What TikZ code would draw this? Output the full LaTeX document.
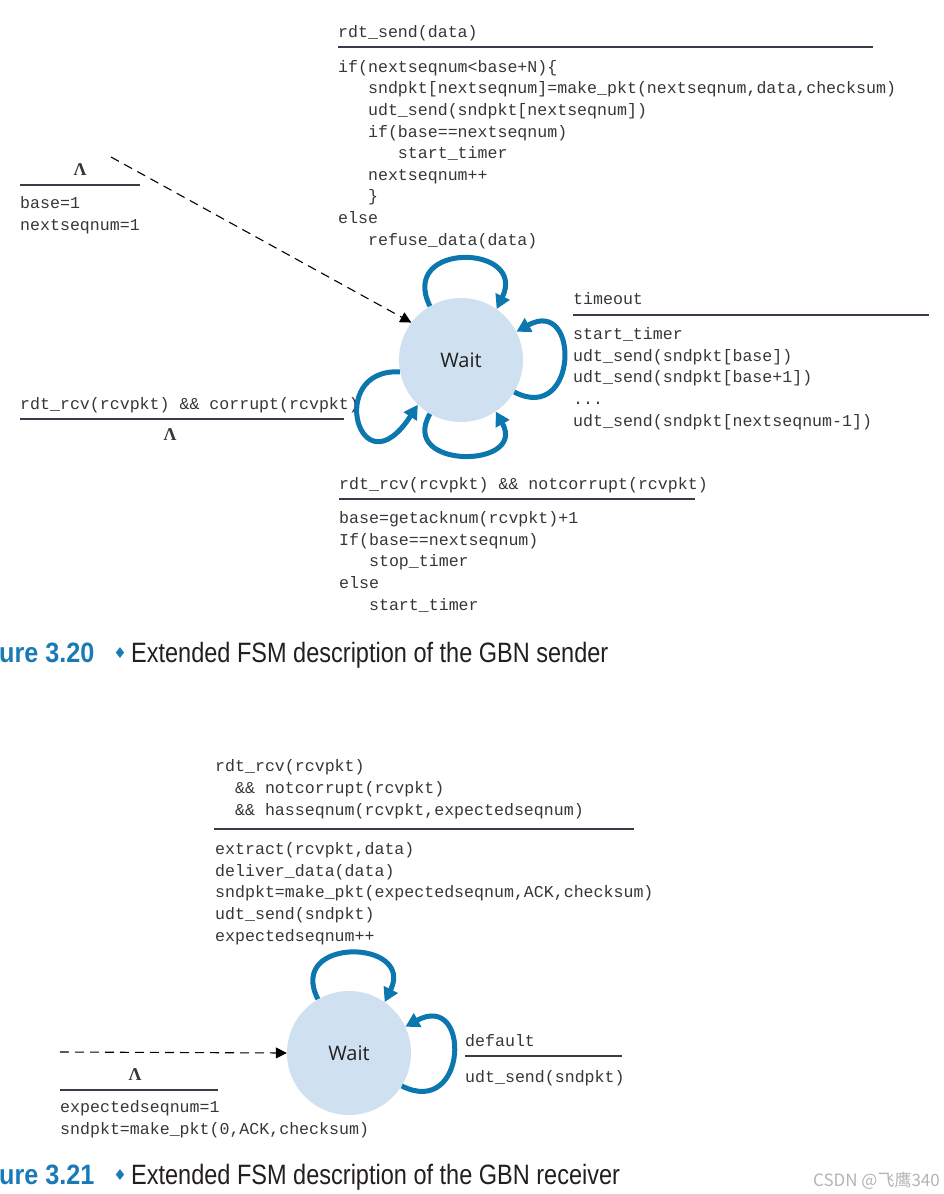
\documentclass[tikz,border=0pt]{standalone}
\usepackage{fontspec}
\setmainfont{Liberation Serif}
\newfontfamily\codefont{Liberation Mono}
\newfontfamily\capfont{Liberation Sans}
\newfontfamily\waitfont{Open Sans}
\newfontfamily\symfont{DejaVu Sans}
\newfontfamily\cjkfont{Noto Sans CJK SC}
\usetikzlibrary{arrows.meta}
\definecolor{loopblue}{HTML}{0C76AE}
\definecolor{statefill}{HTML}{CFE1F0}
\definecolor{codegray}{HTML}{363636}
\definecolor{rulegray}{HTML}{3A3A48}
\definecolor{capblue}{HTML}{1A7AB6}
\definecolor{captext}{HTML}{231F20}
\definecolor{wmgray}{HTML}{B4B4B4}
\newcommand\ind[1]{\phantom{#1}}
\begin{document}
\begin{tikzpicture}[x=1pt,y=-1pt,
  code/.style={anchor=base west, inner sep=0pt, align=left,
    font=\codefont\fontsize{16.6}{21.6}\selectfont, text=codegray},
  rulest/.style={draw=rulegray, line width=1.8pt},
  state/.style={circle, fill=statefill, minimum size=124pt, inner sep=0pt,
    font=\waitfont\fontsize{20}{24}\selectfont, text=captext},
  selfloop/.style={draw=loopblue, line width=5pt, -{Triangle[length=14pt,width=15pt]}},
  init/.style={draw=black, line width=1.1pt, dash pattern=on 9pt off 6pt,
    -{Triangle[length=11pt,width=11pt]}},
  lam/.style={inner sep=0pt, font=\bfseries\fontsize{18}{22}\selectfont, text=codegray},
  capnum/.style={anchor=base west, inner sep=0pt, xscale=0.9, transform shape,
    font=\capfont\bfseries\fontsize{28}{32}\selectfont, text=capblue},
  capdia/.style={inner sep=0pt, font=\symfont\fontsize{15}{18}\selectfont, text=capblue},
  captxt/.style={anchor=base west, inner sep=0pt, xscale=0.84, transform shape,
    font=\capfont\fontsize{28}{32}\selectfont, text=captext},
]
\useasboundingbox (0,0) rectangle (944,1194);

% ---------------- Sender ----------------
\node[state] (s1) at (461,360) {Wait};

\node[code] (sendev) at (338,37) {rdt\_send(data)};
\draw[rulest] (338,47) -- (873,47);
% base anchor of a multi-line node = baseline of its last line
\node[code] (sendact) at (338,245) {if(nextseqnum<base+N)\{\\
\ind{iii}sndpkt[nextseqnum]=make\_pkt(nextseqnum,data,checksum)\\
\ind{iii}udt\_send(sndpkt[nextseqnum])\\
\ind{iii}if(base==nextseqnum)\\
\ind{iiiiii}start\_timer\\
\ind{iii}nextseqnum++\\
\ind{iii}\}\\
else\\
\ind{iii}refuse\_data(data)};

\node[lam] (lam1) at (80,170) {Λ};
\draw[rulest] (20,185) -- (140,185);
\node[code] (initact) at (20,230) {base=1\\nextseqnum=1};

\node[code] (toev) at (573,304) {timeout};
\draw[rulest] (573,315) -- (929,315);
\node[code] (toact) at (573,426) {start\_timer\\
udt\_send(sndpkt[base])\\
udt\_send(sndpkt[base+1])\\
...\\
udt\_send(sndpkt[nextseqnum-1])};

\node[code] (corev) at (20,409) {rdt\_rcv(rcvpkt) \&\& corrupt(rcvpkt)};
\draw[rulest] (20,419) -- (344,419);
\node[lam] (lam2) at (170,435) {Λ};

\node[code] (ackev) at (339,489) {rdt\_rcv(rcvpkt) \&\& notcorrupt(rcvpkt)};
\draw[rulest] (339,499) -- (695,499);
\node[code] (ackact) at (339,610) {base=getacknum(rcvpkt)+1\\
If(base==nextseqnum)\\
\ind{iii}stop\_timer\\
else\\
\ind{iii}start\_timer};

\coordinate (i1) at (111,157);
\draw[init] (i1) -- (s1.143);
\draw[selfloop] (s1.120) .. controls +(-32,-65) and +(31,-65) .. (s1.55);
\draw[selfloop] (s1.-31) .. controls +(64,33) and +(64,-36) .. (s1.27);
\draw[selfloop] (s1.191) .. controls +(-75,-4) and +(-58,90) .. (s1.226);
\draw[selfloop] (s1.240) .. controls +(-32,56) and +(32,57) .. (s1.304);

\node[capnum] (c1n) at (-1,662) {ure 3.20};
\node[capdia] (c1d) at (120,653) {♦};
\node[captxt] (c1t) at (131,662) {Extended FSM description of the GBN sender};

% ---------------- Receiver ----------------
\node[state] (s2) at (349,1053) {Wait};

\node[code] (rcvev) at (215,815) {rdt\_rcv(rcvpkt)\\
\ind{ii}\&\& notcorrupt(rcvpkt)\\
\ind{ii}\&\& hasseqnum(rcvpkt,expectedseqnum)};
\draw[rulest] (214,829) -- (634,829);
\node[code] (rcvact) at (215,941) {extract(rcvpkt,data)\\
deliver\_data(data)\\
sndpkt=make\_pkt(expectedseqnum,ACK,checksum)\\
udt\_send(sndpkt)\\
expectedseqnum++};

\node[code] (defev) at (465,1046) {default};
\draw[rulest] (465,1056) -- (622,1056);
\node[code] (defact) at (465,1082) {udt\_send(sndpkt)};

\node[lam] (lam3) at (135,1075) {Λ};
\draw[rulest] (60,1090) -- (218,1090);
\node[code] (rinit) at (60,1134) {expectedseqnum=1\\
sndpkt=make\_pkt(0,ACK,checksum)};

\coordinate (i2) at (60,1052);
\draw[init] (i2) -- (s2.180);
\draw[selfloop] (s2.120) .. controls +(-32,-63) and +(31,-63) .. (s2.55);
\draw[selfloop] (s2.-32) .. controls +(66,33) and +(66,-36) .. (s2.25);

\node[capnum] (c2n) at (-1,1184) {ure 3.21};
\node[capdia] (c2d) at (120,1175) {♦};
\node[captxt] (c2t) at (131,1184) {Extended FSM description of the GBN receiver};

\node[anchor=base east, inner sep=0pt, font=\cjkfont\fontsize{17}{20}\selectfont, text=wmgray] (wm) at (940,1186) {CSDN @飞鹰340};
\end{tikzpicture}
\end{document}
